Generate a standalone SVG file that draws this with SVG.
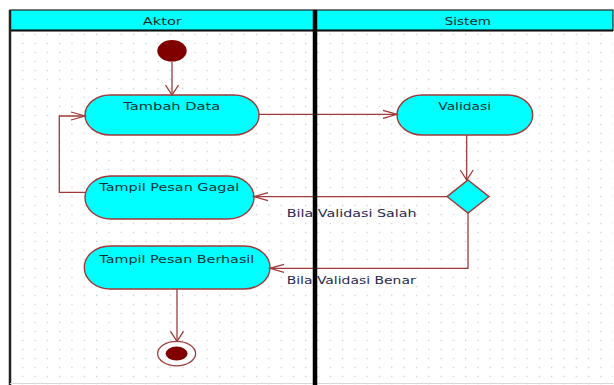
<svg xmlns="http://www.w3.org/2000/svg" width="614" height="385" viewBox="0 0 614 385">
<style>
.node{fill:#00ffff;stroke:#a03a3a;stroke-width:1.4}
.txt{font-family:"DejaVu Sans",Verdana,sans-serif;font-size:11px;fill:#0b3434}
.lbl{font-family:"DejaVu Sans",Verdana,sans-serif;font-size:11px;fill:#2a2a50}
.hdr{font-family:"DejaVu Sans",Verdana,sans-serif;font-size:11px;fill:#0b2b2b}
.con{fill:none;stroke:#a03a3a;stroke-width:1.3}
.ah{fill:none;stroke:#a03a3a;stroke-width:1.3}
</style>
<defs>
<pattern id="dots" patternUnits="userSpaceOnUse" x="22.2" y="33.8" width="12.3" height="9">
<rect x="0" y="0" width="1.2" height="1.2" fill="#c4c4c4"/>
</pattern>
<marker id="arrH" markerUnits="userSpaceOnUse" viewBox="-15 -6 16 12" refX="0" refY="0" markerWidth="16" markerHeight="12" orient="auto" overflow="visible">
<path class="ah" d="M-14,-4 L0,0 L-14,4"/>
</marker>
<marker id="arrV" markerUnits="userSpaceOnUse" viewBox="-11 -8 12 16" refX="0" refY="0" markerWidth="12" markerHeight="16" orient="auto" overflow="visible">
<path class="ah" d="M-10,-6.5 L0,0 L-10,6.5"/>
</marker>
</defs>

<g id="lanes">
<rect x="10" y="31" width="603" height="354" fill="#ffffff"/>
<rect x="10" y="31" width="603" height="354" fill="url(#dots)"/>
<rect x="10" y="10" width="603" height="20.5" fill="#00ffff" stroke="#222" stroke-width="1.2"/>
<line x1="10" y1="30.5" x2="613" y2="30.5" stroke="#111" stroke-width="2"/>
<line x1="10" y1="10" x2="10" y2="385" stroke="#222" stroke-width="2.5"/>
<line x1="10" y1="383.5" x2="613" y2="383.5" stroke="#d8d8d8" stroke-width="1"/>
<text class="hdr" x="142.8" y="24.5" textLength="39" lengthAdjust="spacingAndGlyphs">Aktor</text>
<text class="hdr" x="444.8" y="24.5" textLength="46" lengthAdjust="spacingAndGlyphs">Sistem</text>
</g>

<g id="start">
<ellipse cx="172" cy="50.8" rx="14.7" ry="10.8" fill="#800000"/>
</g>

<g id="tambah-data">
<rect class="node" x="85" y="95" width="174" height="40" rx="25" ry="20"/>
<text class="txt" x="123.3" y="110" textLength="97" lengthAdjust="spacingAndGlyphs">Tambah Data</text>
</g>

<g id="tampil-pesan-gagal">
<rect class="node" x="85" y="176" width="169" height="43" rx="26" ry="21.5"/>
<text class="txt" x="99.3" y="190.5" textLength="140" lengthAdjust="spacingAndGlyphs">Tampil Pesan Gagal</text>
</g>

<g id="tampil-pesan-berhasil">
<rect class="node" x="84.3" y="246" width="185.7" height="43" rx="26" ry="21.5"/>
<text class="txt" x="99.3" y="262.5" textLength="155" lengthAdjust="spacingAndGlyphs">Tampil Pesan Berhasil</text>
</g>

<g id="validasi">
<rect class="node" x="397" y="95" width="135.7" height="40" rx="25" ry="20"/>
<text class="txt" x="438.3" y="110" textLength="52.7" lengthAdjust="spacingAndGlyphs">Validasi</text>
</g>

<g id="decision">
<polygon class="node" points="468,180 489,196.6 468,213 447,196.6"/>
</g>

<g id="end">
<ellipse cx="176.6" cy="353.6" rx="19" ry="12.2" fill="#ffffff" stroke="#a03a3a" stroke-width="1.3"/>
<ellipse cx="176.6" cy="353.6" rx="11" ry="7" fill="#800000"/>
</g>

<g id="connectors">
<path class="con" d="M172,61.6 L172,95" marker-end="url(#arrV)"/>
<path class="con" d="M259,114.3 L397,114.3" marker-end="url(#arrH)"/>
<path class="con" d="M466.7,135 L466.7,180" marker-end="url(#arrV)"/>
<path class="con" d="M447,196.6 L254,196.6" marker-end="url(#arrH)"/>
<path class="con" d="M468,213 L468,268.3 L270,268.3" marker-end="url(#arrH)"/>
<path class="con" d="M85,192.3 L59.3,192.3 L59.3,116 L85,116" marker-end="url(#arrH)"/>
<path class="con" d="M177,289 L177,341.4" marker-end="url(#arrV)"/>
<text class="lbl" x="286.7" y="216.5" textLength="130" lengthAdjust="spacingAndGlyphs">Bila Validasi Salah</text>
<text class="lbl" x="286.7" y="283.5" textLength="129" lengthAdjust="spacingAndGlyphs">Bila Validasi Benar</text>
</g>

<g id="divider">
<line x1="315" y1="10" x2="315" y2="385" stroke="#000" stroke-width="4.5"/>
</g>
</svg>
